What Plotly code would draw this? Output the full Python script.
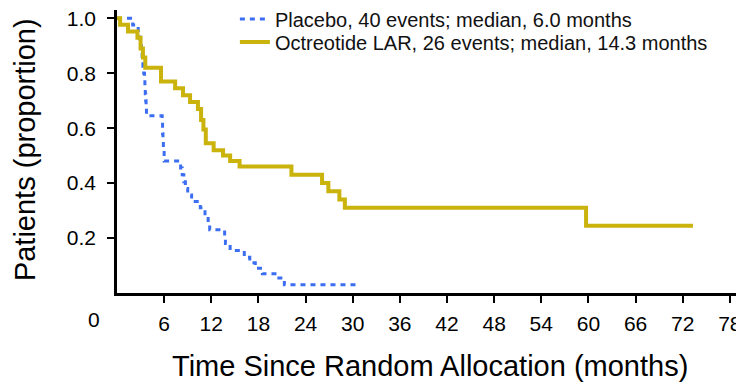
import plotly.graph_objects as go

# Kaplan-Meier step data (time in months, proportion after step)
placebo_t = [0, 2.0, 2.7, 2.9, 3.0, 3.1, 3.2, 3.3, 3.4, 3.5, 3.55, 3.6, 3.65, 3.7, 3.75,
             5.75, 5.8, 5.85, 5.9, 6.0, 8.1, 8.3, 8.5, 8.7, 9.0, 9.5, 10.6, 11.2, 11.6,
             11.8, 13.7, 13.8, 14.4, 16.2, 16.9, 17.6, 18.5, 20.3, 21.3, 30.7]
placebo_s = [1.0, 0.975, 0.95, 0.925, 0.90, 0.875, 0.85, 0.825, 0.80, 0.775, 0.75, 0.725,
             0.70, 0.675, 0.645, 0.62, 0.58, 0.55, 0.52, 0.48, 0.455, 0.43, 0.405, 0.38,
             0.357, 0.333, 0.31, 0.28, 0.255, 0.23, 0.205, 0.18, 0.155, 0.13, 0.11, 0.09,
             0.07, 0.055, 0.03, 0.03]

octreotide_t = [0, 0.4, 1.4, 2.6, 3.0, 3.3, 3.6, 5.6, 7.4, 8.4, 9.3, 10.3, 10.7, 11.0,
                11.3, 12.3, 13.5, 14.4, 15.6, 22.2, 26.1, 26.9, 28.3, 29.0, 59.7, 73.3]
octreotide_s = [1.0, 0.976, 0.952, 0.929, 0.89, 0.857, 0.82, 0.77, 0.745, 0.72, 0.695,
                0.67, 0.63, 0.595, 0.545, 0.52, 0.50, 0.48, 0.46, 0.43, 0.40, 0.37, 0.34,
                0.31, 0.245, 0.245]

x_ticks = [6, 12, 18, 24, 30, 36, 42, 48, 54, 60, 66, 72, 78]
y_ticks = [0.2, 0.4, 0.6, 0.8, 1.0]
y_tick_labels = ["0.2", "0.4", "0.6", "0.8", "1.0"]

placebo_name = "Placebo, 40 events; median, 6.0 months"
octreotide_name = "Octreotide LAR, 26 events; median, 14.3 months"
x_title = "Time Since Random Allocation (months)"
y_title = "Patients (proportion)"

BLUE = "#3b6ef0"
GOLD = "#c9b30c"

fig = go.Figure()
fig.add_trace(go.Scatter(
    x=placebo_t, y=placebo_s, mode="lines", name=placebo_name, legend="legend",
    line=dict(color=BLUE, width=3, dash="5px,5px", shape="hv"),
))
fig.add_trace(go.Scatter(
    x=octreotide_t, y=octreotide_s, mode="lines", name=octreotide_name, legend="legend2",
    line=dict(color=GOLD, width=4, shape="hv"),
))

legend_style = dict(xanchor="left", yanchor="middle", bgcolor="rgba(0,0,0,0)",
                    font=dict(size=20, color="#111"), itemwidth=30)

# page has 8px body margin -> figure is 736x382
fig.update_layout(
    width=736, height=382,
    margin=dict(l=109, r=0, t=2, b=97, autoexpand=False),
    paper_bgcolor="white", plot_bgcolor="white",
    font=dict(family="Liberation Sans, Arial, sans-serif", color="black"),
    showlegend=True,
    legend=dict(x=0.188, y=0.968, **legend_style),
    legend2=dict(x=0.188, y=0.887, **legend_style),
    xaxis=dict(range=[0, 79.8], tickvals=x_ticks, ticks="outside", ticklen=7,
               tickwidth=2, tickcolor="black", showline=True, linewidth=2.5,
               linecolor="black", showgrid=False, zeroline=False,
               ticklabelstandoff=3, automargin=False, ticklabeloverflow="allow",
               tickfont=dict(size=21)),
    yaxis=dict(range=[0, 1.03], tickvals=y_ticks, ticktext=y_tick_labels,
               ticks="outside", ticklen=7, tickwidth=2, tickcolor="black",
               showline=True, linewidth=2.5, linecolor="black", showgrid=False,
               zeroline=False, tickfont=dict(size=21), ticklabelstandoff=7,
               automargin=False, ticklabeloverflow="allow"),
)

fig.add_annotation(text="0", x=-0.0367, y=-0.0919, xref="paper", yref="paper",
                   xanchor="center", yanchor="middle", showarrow=False,
                   font=dict(size=21))
fig.add_annotation(text=x_title, x=0.4992, y=-0.258,
                   xref="paper", yref="paper", xanchor="center", yanchor="middle",
                   showarrow=False, font=dict(size=29))
fig.add_annotation(text=y_title, x=-0.1467, y=0.505,
                   xref="paper", yref="paper", xanchor="center", yanchor="middle",
                   textangle=-90, showarrow=False, font=dict(size=29))

fig.write_html("out.html")
